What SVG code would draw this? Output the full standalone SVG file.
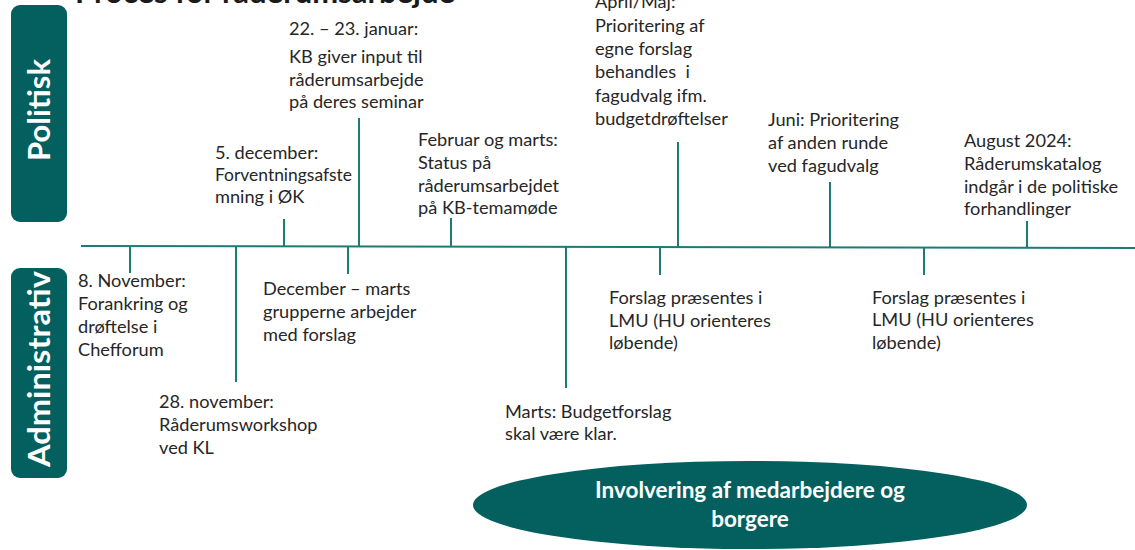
<svg xmlns="http://www.w3.org/2000/svg" width="1135" height="550" viewBox="0 0 1135 550">
<style>
.t{font-family:Lato,"Liberation Sans",sans-serif;font-size:18.2px;fill:#262626}
.lane{fill:#04605e}
.lt{font-family:Lato,"Liberation Sans",sans-serif;font-size:31px;font-weight:bold;fill:#ffffff}
.ln{stroke:#1d7a77;stroke-width:2;fill:none}
.et{font-family:Lato,"Liberation Sans",sans-serif;font-size:22.5px;font-weight:bold;fill:#ffffff}
.title{font-family:Lato,"Liberation Sans",sans-serif;font-size:31px;font-weight:bold;fill:#1a1a1a}
</style>
<rect width="1135" height="550" fill="#ffffff"/>
<text class="title" x="75" y="3" textLength="380" lengthAdjust="spacingAndGlyphs">Proces for råderumsarbejde</text>

<g id="lane-politisk">
<rect class="lane" x="11" y="5" width="56" height="217" rx="9"/>
<text class="lt" transform="translate(50,110) rotate(-90)" text-anchor="middle">Politisk</text>
</g>
<g id="lane-administrativ">
<rect class="lane" x="11" y="268" width="56" height="210" rx="9"/>
<text class="lt" transform="translate(50,369) rotate(-90)" text-anchor="middle" textLength="196" lengthAdjust="spacingAndGlyphs">Administrativ</text>
</g>

<g id="connectors">
<line class="ln" x1="81" y1="246" x2="1135" y2="248"/>
<line class="ln" x1="130" y1="246" x2="130" y2="273"/>
<line class="ln" x1="236" y1="246" x2="236" y2="382"/>
<line class="ln" x1="348" y1="246" x2="348" y2="274"/>
<line class="ln" x1="284" y1="246" x2="284" y2="219"/>
<line class="ln" x1="359" y1="246" x2="359" y2="118"/>
<line class="ln" x1="451" y1="246" x2="451" y2="218"/>
<line class="ln" x1="566" y1="247" x2="566" y2="388"/>
<line class="ln" x1="660" y1="247" x2="660" y2="275"/>
<line class="ln" x1="678" y1="247" x2="678" y2="142"/>
<line class="ln" x1="830" y1="248" x2="830" y2="182"/>
<line class="ln" x1="924" y1="248" x2="924" y2="275"/>
<line class="ln" x1="1027" y1="248" x2="1027" y2="221"/>
</g>

<g id="n-8nov">
<text class="t" x="78" y="287">8. November:</text>
<text class="t" x="78" y="310">Forankring og</text>
<text class="t" x="78" y="333">drøftelse i</text>
<text class="t" x="78" y="356">Chefforum</text>
</g>
<g id="n-28nov">
<text class="t" x="159" y="408">28. november:</text>
<text class="t" x="159" y="431">Råderumsworkshop</text>
<text class="t" x="159" y="454">ved KL</text>
</g>
<g id="n-dec-marts">
<text class="t" x="263" y="295">December – marts</text>
<text class="t" x="263" y="318">grupperne arbejder</text>
<text class="t" x="263" y="341">med forslag</text>
</g>
<g id="n-5dec">
<text class="t" x="215" y="159">5. december:</text>
<text class="t" x="215" y="181" textLength="137" lengthAdjust="spacingAndGlyphs">Forventningsafste</text>
<text class="t" x="215" y="203">mning i ØK</text>
</g>
<g id="n-januar">
<text class="t" x="289" y="35">22. – 23. januar:</text>
<text class="t" x="289" y="63">KB giver input til</text>
<text class="t" x="289" y="86">råderumsarbejde</text>
<text class="t" x="289" y="108">på deres seminar</text>
</g>
<g id="n-februar">
<text class="t" x="418" y="146">Februar og marts:</text>
<text class="t" x="418" y="169">Status på</text>
<text class="t" x="418" y="192">råderumsarbejdet</text>
<text class="t" x="418" y="214">på KB-temamøde</text>
</g>
<g id="n-marts">
<text class="t" x="505" y="418">Marts: Budgetforslag</text>
<text class="t" x="505" y="440">skal være klar.</text>
</g>
<g id="n-lmu1">
<text class="t" x="609" y="304">Forslag præsentes i</text>
<text class="t" x="609" y="327">LMU (HU orienteres</text>
<text class="t" x="609" y="349">løbende)</text>
</g>
<g id="n-april">
<text class="t" x="595" y="8">April/Maj:</text>
<text class="t" x="595" y="31.5">Prioritering af</text>
<text class="t" x="595" y="55">egne forslag</text>
<text class="t" x="595" y="78" xml:space="preserve">behandles  i</text>
<text class="t" x="595" y="101.5">fagudvalg ifm.</text>
<text class="t" x="595" y="125">budgetdrøftelser</text>
</g>
<g id="n-juni">
<text class="t" x="768" y="126">Juni: Prioritering</text>
<text class="t" x="768" y="149">af anden runde</text>
<text class="t" x="768" y="172">ved fagudvalg</text>
</g>
<g id="n-lmu2">
<text class="t" x="872" y="304">Forslag præsentes i</text>
<text class="t" x="872" y="326">LMU (HU orienteres</text>
<text class="t" x="872" y="349">løbende)</text>
</g>
<g id="n-august">
<text class="t" x="964" y="147">August 2024:</text>
<text class="t" x="964" y="170">Råderumskatalog</text>
<text class="t" x="964" y="193">indgår i de politiske</text>
<text class="t" x="964" y="215">forhandlinger</text>
</g>
<g id="n-involvering">
<ellipse class="lane" cx="750" cy="505" rx="277" ry="44"/>
<text class="et" x="750" y="498" text-anchor="middle">Involvering af medarbejdere og</text>
<text class="et" x="750" y="527" text-anchor="middle">borgere</text>
</g>
</svg>
